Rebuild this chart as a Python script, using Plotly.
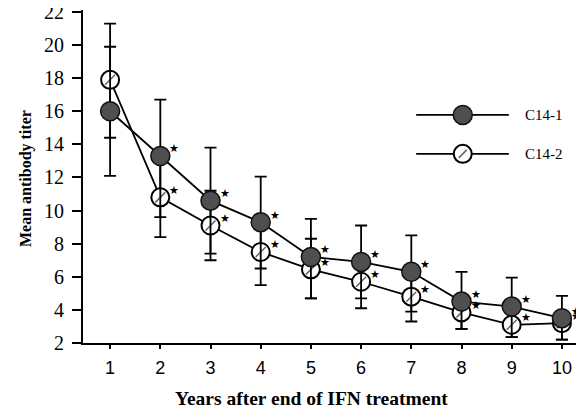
import plotly.graph_objects as go

years = [1, 2, 3, 4, 5, 6, 7, 8, 9, 10]
c14_1_mean = [16.0, 13.3, 10.6, 9.3, 7.2, 6.9, 6.3, 4.5, 4.2, 3.5]
c14_1_upper = [19.9, 16.7, 13.8, 12.05, 9.5, 9.1, 8.5, 6.3, 5.95, 4.85]
c14_1_lower = [12.1, 9.6, 7.4, 6.5, 4.7, 4.7, 3.9, 2.85, 2.35, 2.2]
c14_2_mean = [17.9, 10.8, 9.1, 7.5, 6.45, 5.7, 4.8, 3.85, 3.1, 3.2]
c14_2_upper = [21.3, 13.2, 11.2, 9.3, 8.3, 6.9, 6.3, 4.5, 4.2, 3.5]
c14_2_lower = [14.4, 8.4, 7.0, 5.5, 4.7, 4.1, 3.3, 2.85, 2.35, 2.2]
significant = [False, True, True, True, True, True, True, True, True, True]
y_ticks = [2, 4, 6, 8, 10, 12, 14, 16, 18, 20, 22]
series_names = ["C14-1", "C14-2"]

SERIF = "Liberation Serif"
SANS = "Liberation Sans"
C1_FILL = "#4f4f4f"

def err(mean, up, lo):
    return dict(type="data", symmetric=False,
                array=[u - m for u, m in zip(up, mean)],
                arrayminus=[m - l for m, l in zip(mean, lo)],
                color="black", thickness=1.8, width=6)

fig = go.Figure()

# C14-2 (hatched open circles)
fig.add_trace(go.Scatter(
    x=years, y=c14_2_mean, mode="lines+markers",
    line=dict(color="black", width=1.8),
    marker=dict(symbol="circle", size=18, color="white",
                line=dict(color="black", width=2)),
    error_y=err(c14_2_mean, c14_2_upper, c14_2_lower),
    showlegend=False, cliponaxis=False))
fig.add_trace(go.Scatter(
    x=years, y=c14_2_mean, mode="markers",
    marker=dict(symbol="line-ne", size=10, color="#555",
                line=dict(color="#666", width=1.5)),
    showlegend=False, hoverinfo="skip", cliponaxis=False))

# C14-1 (dark filled circles)
fig.add_trace(go.Scatter(
    x=years, y=c14_1_mean, mode="lines+markers",
    line=dict(color="black", width=1.8),
    marker=dict(symbol="circle", size=19, color=C1_FILL,
                line=dict(color="#111", width=1.5)),
    error_y=err(c14_1_mean, c14_1_upper, c14_1_lower),
    showlegend=False, cliponaxis=False))

# significance stars next to each point
for xs, ys in ((years, c14_1_mean), (years, c14_2_mean)):
    for x, y, sig in zip(xs, ys, significant):
        if sig:
            fig.add_annotation(x=x, y=y, xref="x", yref="y", text="★",
                               showarrow=False, xshift=14, yshift=7,
                               font=dict(family="DejaVu Sans", size=11, color="black"))

# Manual legend (paper coordinates, pixel-sized symbols)
leg_y = [0.685, 0.568]
leg_x = 0.758
for name, yy, ysh in zip(series_names, leg_y, [10, 0]):
    fig.add_shape(type="line", xref="paper", yref="paper",
                  x0=0.665, x1=0.85, y0=yy, y1=yy,
                  line=dict(color="black", width=1.8))
    fig.add_annotation(x=0.878, y=yy, xref="paper", yref="paper",
                       text=name, showarrow=False, xanchor="left", yshift=ysh,
                       font=dict(family=SERIF, size=15, color="black"))
fig.add_shape(type="circle", xref="paper", yref="paper",
              xsizemode="pixel", ysizemode="pixel",
              xanchor=leg_x, yanchor=leg_y[0], x0=-9.5, x1=9.5, y0=-9.5, y1=9.5,
              fillcolor=C1_FILL, line=dict(color="#111", width=1.5))
fig.add_shape(type="circle", xref="paper", yref="paper",
              xsizemode="pixel", ysizemode="pixel",
              xanchor=leg_x, yanchor=leg_y[1], x0=-9, x1=9, y0=-9, y1=9,
              fillcolor="white", line=dict(color="black", width=2))
fig.add_shape(type="line", xref="paper", yref="paper",
              xsizemode="pixel", ysizemode="pixel",
              xanchor=leg_x, yanchor=leg_y[1], x0=-4, x1=4, y0=-4, y1=4,
              line=dict(color="#666", width=1.5))

# Axis titles as annotations
fig.add_annotation(x=0.456, y=-0.204, xref="paper", yref="paper",
                   text="<b>Years after end of IFN treatment</b>", showarrow=False,
                   font=dict(family=SERIF, size=19.5, color="black"))
fig.add_annotation(x=-0.136, y=0.495, xref="paper", yref="paper",
                   text="<b>Mean antibody titer</b>", showarrow=False, textangle=-90,
                   font=dict(family=SERIF, size=16, color="black"))

fig.update_layout(
    width=576, height=404,
    margin=dict(l=75, r=0, t=2, b=69),
    paper_bgcolor="white", plot_bgcolor="rgba(0,0,0,0)",
    showlegend=False,
    xaxis=dict(range=[0.46, 10.44], tickmode="array", tickvals=years,
               ticktext=[str(y) for y in years], automargin=False,
               showgrid=False, zeroline=False,
               showline=True, linecolor="black", linewidth=2,
               ticks="outside", ticklen=4, tickwidth=1.5, tickcolor="black",
               ticklabelstandoff=3,
               tickfont=dict(family=SANS, size=18, color="black")),
    yaxis=dict(range=[2, 22.12], tickmode="array", tickvals=y_ticks,
               automargin=False,
               showgrid=False, zeroline=False,
               showline=True, linecolor="black", linewidth=2,
               ticks="outside", ticklen=9, tickwidth=1.5, tickcolor="black",
               ticklabelstandoff=4, ticklabeloverflow="allow",
               tickfont=dict(family=SERIF, size=20, color="black")),
)

fig.write_html("out.html")
